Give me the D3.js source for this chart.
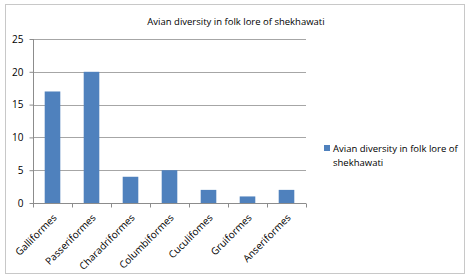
<!DOCTYPE html>
<html>
<head>
<meta charset="utf-8">
<script src="https://cdn.jsdelivr.net/npm/d3@7"></script>
<style>
  body { margin: 0; background: #fff; }
  text { font-family: "Open Sans", "DejaVu Sans", sans-serif; fill: #000; }
</style>
</head>
<body>
<div id="chart"></div>
<script>
// chart data
var orders = ["Galliformes", "Passeriformes", "Charadriformes", "Columbiformes", "Cuculifomes", "Gruiformes", "Anseriformes"];
var counts = [17, 20, 4, 5, 2, 1, 2];
var yTicks = [0, 5, 10, 15, 20, 25];
var seriesName = "Avian diversity in folk lore of shekhawati";

var width = 470, height = 277;
var plotL = 33, plotR = 306, plotT = 39, plotB = 203;

var svg = d3.select("#chart")
  .append("svg")
  .attr("width", width)
  .attr("height", height);

// outer frame
svg.append("rect")
  .attr("x", 5.5).attr("y", 4.5)
  .attr("width", 459).attr("height", 269)
  .attr("fill", "none")
  .attr("stroke", "#c8c8c8");

var x = d3.scaleBand().domain(orders).range([plotL, plotR]).paddingInner(0.6).paddingOuter(0.3);
var xb = d3.scaleBand().domain(orders).range([plotL, plotR]);
var y = d3.scaleLinear().domain([0, 25]).range([plotB, plotT]);

// gridlines
svg.append("g").selectAll("line")
  .data(yTicks.filter(function(d){ return d > 0; }))
  .enter().append("line")
  .attr("x1", plotL).attr("x2", plotR)
  .attr("y1", function(d){ return Math.round(y(d)) + 0.5; })
  .attr("y2", function(d){ return Math.round(y(d)) + 0.5; })
  .attr("stroke", "#a6a6a6");

// bars
svg.append("g").selectAll("rect")
  .data(counts)
  .enter().append("rect")
  .attr("x", function(d, i){ return x(orders[i]); })
  .attr("width", x.bandwidth())
  .attr("y", function(d){ return y(d); })
  .attr("height", function(d){ return y(0) - y(d); })
  .attr("fill", "#4f81bd");

// y axis
var yAxis = svg.append("g")
  .attr("transform", "translate(" + (plotL + 0.5) + ",0)")
  .call(d3.axisLeft(y).tickValues(yTicks).tickSize(4).tickPadding(6));
yAxis.select(".domain").attr("stroke", "#8c8c8c").attr("d", "M0," + plotT + "V" + (plotB + 0.5));
yAxis.selectAll(".tick line").attr("stroke", "#8c8c8c");
yAxis.selectAll("text").attr("font-size", 10).style("font-family", "'Open Sans', sans-serif");

// x axis
var xAxis = svg.append("g")
  .attr("transform", "translate(0," + (Math.round(plotB) + 0.5) + ")");
xAxis.append("line")
  .attr("x1", plotL).attr("x2", plotR)
  .attr("stroke", "#8c8c8c");
xAxis.selectAll(".tk")
  .data(orders.concat([null]))
  .enter().append("line")
  .attr("x1", function(d, i){ return Math.round(plotL + i * xb.step()) + 0.5; })
  .attr("x2", function(d, i){ return Math.round(plotL + i * xb.step()) + 0.5; })
  .attr("y1", 0).attr("y2", 4)
  .attr("stroke", "#8c8c8c");
xAxis.selectAll(".lbl")
  .data(orders)
  .enter().append("text")
  .attr("transform", function(d){
    return "translate(" + (xb(d) + xb.bandwidth() / 2) + ",10) rotate(-45)";
  })
  .attr("text-anchor", "end")
  .attr("dy", "0.7em")
  .attr("font-size", 10)
  .text(function(d){ return d; });

// title
svg.append("text")
  .attr("x", 236).attr("y", 25)
  .attr("text-anchor", "middle")
  .attr("font-size", 9.5)
  .text(seriesName);

// legend
svg.append("rect")
  .attr("x", 324).attr("y", 145)
  .attr("width", 6).attr("height", 6)
  .attr("fill", "#4f81bd");
var words = seriesName.split(" ");
var leg = svg.append("text")
  .attr("x", 333).attr("y", 152)
  .attr("font-size", 9.5);
leg.append("tspan").attr("x", 333).text(words.slice(0, 6).join(" "));
leg.append("tspan").attr("x", 333).attr("dy", 14).text(words.slice(6).join(" "));
</script>
</body>
</html>
